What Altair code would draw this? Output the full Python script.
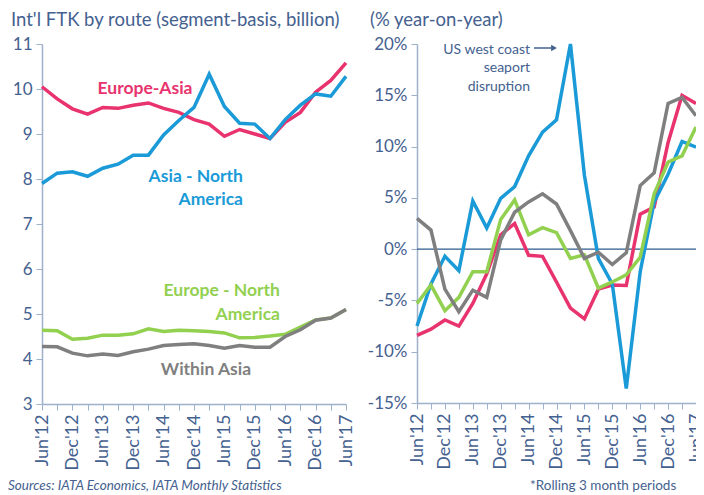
import altair as alt
import pandas as pd

periods = ["Jun'12", "Sep'12", "Dec'12", "Mar'13", "Jun'13", "Sep'13", "Dec'13",
           "Mar'14", "Jun'14", "Sep'14", "Dec'14", "Mar'15", "Jun'15", "Sep'15",
           "Dec'15", "Mar'16", "Jun'16", "Sep'16", "Dec'16", "Mar'17", "Jun'17"]

series_names = ["Europe-Asia", "Asia-North America", "Europe-North America", "Within Asia"]
series_colors = ["#E8336E", "#1B9AD8", "#92D050", "#7F7F7F"]

# Int'l FTK, billion
ea_lvl = [10.05, 9.78, 9.56, 9.44, 9.59, 9.57, 9.64, 9.69, 9.57, 9.48, 9.32, 9.22, 8.95, 9.10, 9.00, 8.90, 9.26, 9.48, 9.93, 10.19, 10.58]
ana_lvl = [7.90, 8.13, 8.16, 8.06, 8.24, 8.33, 8.53, 8.53, 8.98, 9.30, 9.59, 10.33, 9.61, 9.24, 9.22, 8.90, 9.32, 9.64, 9.89, 9.84, 10.28]
ena_lvl = [4.64, 4.63, 4.44, 4.46, 4.53, 4.53, 4.56, 4.67, 4.61, 4.64, 4.63, 4.61, 4.58, 4.47, 4.48, 4.51, 4.55, 4.71, 4.87, 4.91, 5.10]
wa_lvl = [4.28, 4.27, 4.13, 4.07, 4.11, 4.08, 4.16, 4.22, 4.30, 4.32, 4.34, 4.30, 4.24, 4.30, 4.26, 4.26, 4.50, 4.65, 4.86, 4.91, 5.10]

# % year-on-year
ea_yoy = [-8.4, -7.8, -6.9, -7.5, -5.3, -2.4, 1.4, 2.5, -0.6, -0.7, -3.2, -5.75, -6.8, -3.9, -3.5, -3.55, 3.4, 4.1, 10.4, 15.0, 14.2]
ana_yoy = [-7.5, -3.4, -0.7, -2.1, 4.7, 2.05, 4.95, 6.1, 9.1, 11.4, 12.6, 20.0, 7.2, -0.9, -3.4, -13.6, -2.2, 4.6, 7.3, 10.5, 9.95]
ena_yoy = [-5.3, -3.5, -6.0, -4.7, -2.2, -2.2, 2.9, 4.8, 1.4, 2.1, 1.6, -0.9, -0.55, -3.8, -3.2, -2.5, -0.8, 5.4, 8.5, 9.1, 11.9]
wa_yoy = [3.0, 1.86, -3.9, -6.1, -4.0, -4.7, 0.9, 3.6, 4.6, 5.4, 4.4, 1.8, -0.9, -0.3, -1.5, -0.35, 6.2, 7.45, 14.2, 14.8, 13.0]

left_ticks = [3, 4, 5, 6, 7, 8, 9, 10, 11]
right_ticks = [-15, -10, -5, 0, 5, 10, 15, 20]

TXT = "#44618F"
AX = "#9DB0CC"
FONT = "Lato"


def long_df(lists):
    rows = []
    for name, vals in zip(series_names, lists):
        for p, v in zip(periods, vals):
            rows.append({"period": p, "series": name, "value": v})
    return pd.DataFrame(rows)


lvl_df = long_df([ea_lvl, ana_lvl, ena_lvl, wa_lvl])
yoy_df = long_df([ea_yoy, ana_yoy, ena_yoy, wa_yoy])

label_expr = "(slice(datum.label,0,3)=='Sep' || slice(datum.label,0,3)=='Mar') ? '' : datum.label"

x_enc = alt.X("period:O", sort=periods, scale=alt.Scale(type="point", padding=0),
              axis=alt.Axis(title=None, labelAngle=270, labelExpr=label_expr,
                            labelFontSize=18, labelColor=TXT, labelFont=FONT,
                            domainColor=AX, tickColor=AX, tickSize=6,
                            labelPadding=4, domainWidth=1.5))
color_enc = alt.Color("series:N", scale=alt.Scale(domain=series_names, range=series_colors), legend=None)

# ---------- left panel ----------
left_lines = alt.Chart(lvl_df).mark_line(strokeWidth=3.5).encode(
    x=x_enc,
    y=alt.Y("value:Q", scale=alt.Scale(domain=[3, 11], nice=False),
            axis=alt.Axis(title=None, values=left_ticks, labelFontSize=17, labelColor=TXT,
                          labelFont=FONT, domainColor=AX, tickColor=AX, tickSize=6,
                          domainWidth=1.5, minExtent=34, maxExtent=34, labelPadding=4)),
    color=color_enc,
    detail="series:N",
)


def txt(text, x, y, color, align="center", size=17.5, weight="bold", style="normal"):
    return alt.Chart(pd.DataFrame({"t": [text]})).mark_text(
        align=align, baseline="middle", fontSize=size, fontWeight=weight,
        font=FONT, color=color, fontStyle=style
    ).encode(text="t:N", x=alt.value(x), y=alt.value(y))


left_labels = [
    txt("Europe-Asia", 103, 45, series_colors[0]),
    txt("Asia - North", 201, 133, series_colors[1], align="right"),
    txt("America", 201, 156, series_colors[1], align="right"),
    txt("Europe - North", 238, 247, series_colors[2], align="right"),
    txt("America", 238, 271, series_colors[2], align="right"),
    txt("Within Asia", 164, 326, series_colors[3]),
    txt("Sources: IATA Economics, IATA Monthly Statistics", -34, 442, TXT,
        align="left", size=13.5, weight="normal", style="italic"),
]

left = alt.layer(left_lines, *left_labels).properties(
    width=304, height=360,
    title=alt.TitleParams("Int'l FTK by route (segment-basis, billion)", anchor="start",
                          frame="bounds", fontSize=18.5, font=FONT, color=TXT,
                          fontWeight="normal", offset=6, dx=3),
)

# ---------- right panel ----------
zero = alt.Chart(pd.DataFrame({"v": [0]})).mark_rule(color="#2E5A8C", strokeWidth=1.2).encode(y="v:Q")

right_lines = alt.Chart(yoy_df).mark_line(strokeWidth=3.5).encode(
    x=x_enc,
    y=alt.Y("value:Q", scale=alt.Scale(domain=[-15, 20], nice=False),
            axis=alt.Axis(title=None, values=right_ticks, labelExpr="datum.value + '%'",
                          labelFontSize=17, labelColor=TXT, labelFont=FONT,
                          domainColor=AX, tickColor=AX, tickSize=6, domainWidth=1.5,
                          minExtent=58, maxExtent=58, labelPadding=4)),
    color=color_enc,
    detail="series:N",
)

arrow_line = alt.Chart(pd.DataFrame({"a": [0]})).mark_rule(color=TXT, strokeWidth=1.5).encode(
    x=alt.value(117), x2=alt.value(135), y=alt.value(4))
arrow_head = alt.Chart(pd.DataFrame({"a": [0]})).mark_point(
    shape="triangle-right", filled=True, color=TXT, opacity=1, size=45).encode(
    x=alt.value(137), y=alt.value(4))

right_labels = [
    txt("US west coast", 113, 6, TXT, align="right", size=14, weight="normal"),
    txt("seaport", 113, 24, TXT, align="right", size=14, weight="normal"),
    txt("disruption", 113, 43, TXT, align="right", size=14, weight="normal"),
    txt("*Rolling 3 month periods", 113, 442, TXT, align="left", size=13.5, weight="normal"),
]

right = alt.layer(zero, right_lines, arrow_line, arrow_head, *right_labels).properties(
    width=279, height=359,
    title=alt.TitleParams("(% year-on-year)", anchor="start", frame="bounds",
                          fontSize=18.5, font=FONT, color=TXT, fontWeight="normal",
                          offset=6, dx=11),
)

chart = alt.hconcat(left, right, spacing=71, bounds="flush").properties(
    padding={"left": 0, "top": 2, "right": -9, "bottom": 0}
).configure_view(stroke=None).configure_axis(grid=False)

chart.save("out.html", embed_options={"renderer": "svg", "actions": False})
